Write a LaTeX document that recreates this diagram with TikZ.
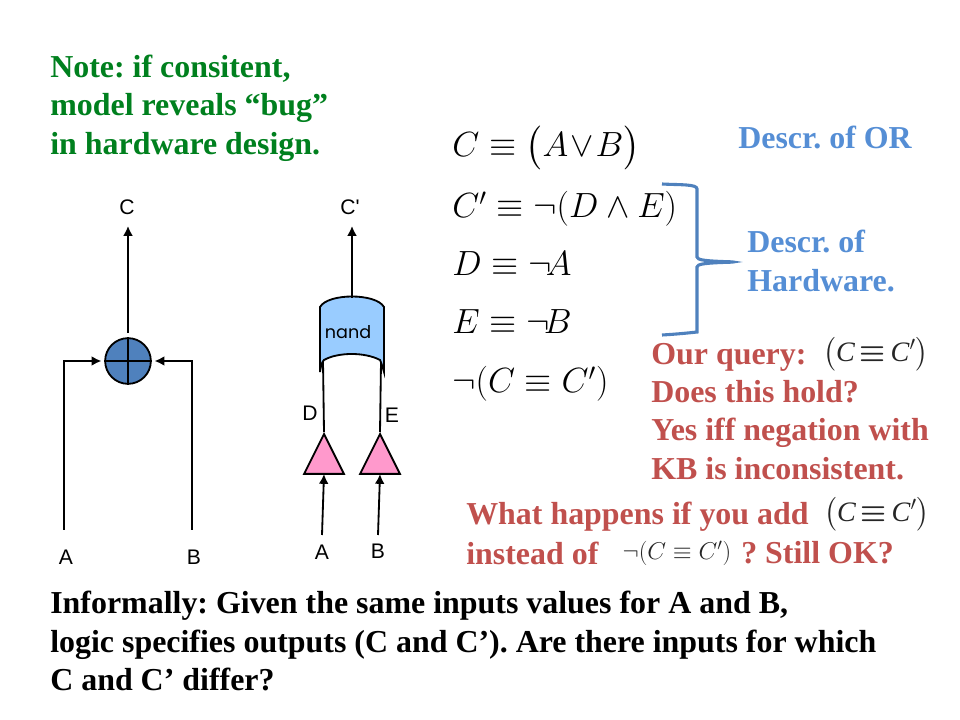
\documentclass[tikz,border=0pt]{standalone}
\usepackage{amsmath,amssymb}
\usepackage{fontspec}
\setmainfont{Liberation Serif}
\newfontfamily\labelfont{Liberation Sans}
\newfontfamily\gatefont{Poppins}
\usetikzlibrary{shapes.geometric, arrows.meta, positioning}
\definecolor{notegreen}{RGB}{0,128,30}
\definecolor{descrblue}{RGB}{85,142,213}
\definecolor{queryred}{RGB}{192,80,77}
\definecolor{orfill}{RGB}{79,129,189}
\definecolor{nandfill}{RGB}{153,204,255}
\definecolor{invfill}{RGB}{255,153,204}
\newcommand{\samecc}{$\bigl($\textit{C}\,$\boldsymbol{\equiv}$\,\textit{C}$'\bigr)$}
\frenchspacing

\begin{document}
\begin{tikzpicture}[
    x=0.025cm, y=-0.025cm,
    say/.style={anchor=west, align=left, inner sep=0pt, font=\bfseries\fontsize{22.7}{27.4}\selectfont},
    eqn/.style={anchor=west, inner sep=0pt, font=\fontsize{26}{30}\selectfont},
    qry/.style={inner sep=0pt, text=black!85, font=\fontsize{20}{22}\selectfont},
    lbl/.style={inner sep=0pt, font=\labelfont\fontsize{15}{17}\selectfont},
    wire/.style={line width=1.3pt},
    arrow/.style={-{Latex[length=7pt,width=7pt]}, line width=1.3pt},
    inv/.style={isosceles triangle, isosceles triangle apex angle=53, isosceles triangle stretches,
        shape border rotate=90, draw=black, fill=invfill, line width=1.3pt, inner sep=0pt,
        minimum width=28.3pt, minimum height=28.3pt, anchor=apex}
]
\useasboundingbox (0,0) rectangle (960,720);

% Notes
\node[say, text=notegreen] (note) at (50,108) {Note: if consitent,\\model reveals ``bug''\\in hardware design.};
\node[say, text=descrblue] (descror) at (738,137) {Descr. of OR};
\node[say, text=descrblue] (descrhw) at (747,261) {Descr. of\\Hardware.};
\node[say, text=queryred] (ourquery) at (651,357) {Our query:};
\node[say, text=queryred] (query) at (651,430) {Does this hold?\\Yes iff negation with\\KB is inconsistent.};
\node[say, text=queryred] (whatif) at (466,517) {What happens if you add};
\node[say, text=queryred] (instead) at (466,553) {instead of};
\node[say, text=queryred] (stillok) at (741,553) {? Still OK?};
\node[say] (informal) at (50,641) {Informally: Given the same inputs values for A and B,\\logic specifies outputs (C and C').\ Are there inputs for which\\C and C' differ?};

% Query formulas
\node[qry] (qa) at (876,354) {\samecc};
\node[qry] (qb) at (877,514) {\samecc};
\node[qry, font=\fontsize{18.5}{22}\selectfont] (qc) at (677,553) {$\neg(C\equiv C')$};

% Formulas
\node[eqn] (eqa) at (452,148) {$C\equiv\bigl(A\!\vee\! B\bigr)$};
\node[eqn] (eqb) at (452,209) {$C'\equiv\neg(D\wedge E)$};
\node[eqn] (eqc) at (452,264) {$D\equiv\neg\!A$};
\node[eqn] (eqd) at (452,322) {$E\equiv\neg\!B$};
\node[eqn] (eqe) at (452,384) {$\neg(C\equiv C')$};

% Brace
\draw[orfill, line width=2.2pt, rounded corners=5pt] (662,184) .. controls (680,185) and (697,184) .. (697,196) -- (697,250)
    .. controls (697,260) and (705,261) .. (737,262) .. controls (705,263) and (697,264) .. (697,274) -- (697,325)
    .. controls (697,332) and (680,334) .. (662,335);

% OR gate
\node[circle, draw=black, fill=orfill, line width=1.3pt, minimum size=32.5pt, inner sep=0pt] (orgate) at (128,361) {};
\draw[wire] (orgate.north) -- (orgate.south);
\draw[wire] (orgate.west) -- (orgate.east);
\node[lbl] (orc) at (127,207) {C};
\node[lbl] (ora) at (66,557) {A};
\node[lbl] (orb) at (194,557) {B};
\coordinate (orcout) at (128,226);
\coordinate (orain) at (64,530);
\coordinate (orbin) at (192,530);
\draw[arrow, shorten <=3pt] (orgate.north) -- (orcout);
\draw[arrow, shorten >=2pt] (orain) |- (orgate.west);
\draw[arrow, shorten >=2pt] (orbin) |- (orgate.east);

% Nand gate
\draw[draw=black, fill=nandfill, line width=1.3pt] (320,307) .. controls (328,293) and (376,293) .. (384,307) -- (384,372)
    .. controls (382,365) and (381,362) .. (380,360) .. controls (365,352) and (338,352) .. (324,360) .. controls (322,362) and (321,365) .. (320,372) -- cycle;
\node[inner sep=0pt, font=\gatefont\fontsize{12.5}{14}\selectfont] (nandtxt) at (348,332) {nand};
\coordinate (nandout) at (352,298);
\coordinate (nandd) at (323,362);
\coordinate (nande) at (381,362);
\coordinate (coutp) at (352,226);
\node[lbl] (nc) at (350,207) {C'};
\draw[arrow] (nandout) -- (coutp);

% Inverters
\node[inv] (inva) at (324,432) {};
\node[inv] (invb) at (380,432) {};
\node[lbl] (nd) at (310,413) {D};
\node[lbl] (ne) at (392,415) {E};
\node[lbl] (na) at (322,552) {A};
\node[lbl] (nb) at (378,551) {B};
\coordinate (naend) at (322,535);
\coordinate (nbend) at (378,535);
\coordinate (natip) at (324,474);
\coordinate (nbtip) at (380,474);
\draw[wire] (inva.apex) -- (nandd);
\draw[wire] (invb.apex) -- (nande);
\draw[arrow] (naend) -- (natip);
\draw[arrow] (nbend) -- (nbtip);

\end{tikzpicture}
\end{document}
